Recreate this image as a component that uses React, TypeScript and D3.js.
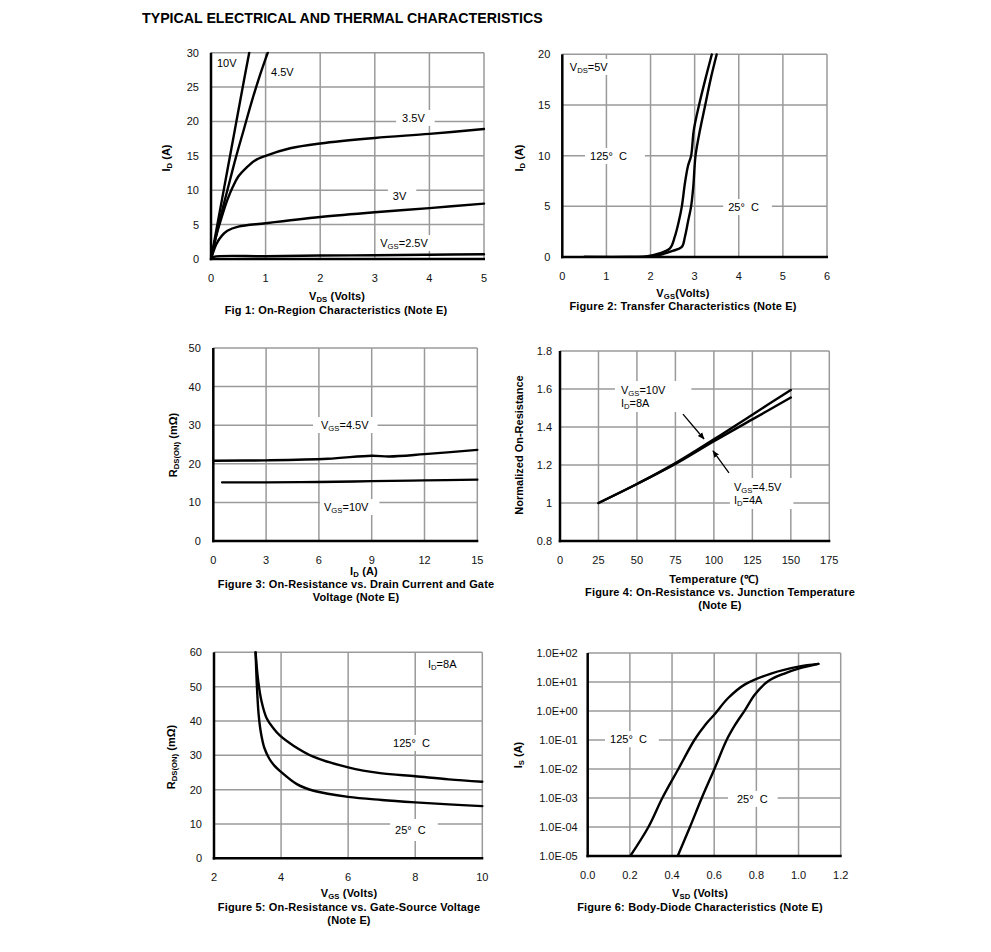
import React from 'react';
import * as d3 from 'd3';

const FONT = 'Arial, "Liberation Sans", Helvetica, sans-serif';
type Pt = [number, number];

// ---------- Figure 1: On-Region Characteristics ----------
const fig1XTicks = [0, 1, 2, 3, 4, 5];
const fig1YTicks = [0, 5, 10, 15, 20, 25, 30];
const fig1Vgs10: Pt[] = [[0, 0], [0.2, 8.6], [0.4, 17.2], [0.6, 25.8], [0.7, 30]];
const fig1Vgs45: Pt[] = [[0, 0], [0.1, 3.6], [0.2, 6.9], [0.3, 10], [0.45, 14.6], [0.6, 18.8], [0.75, 23], [0.9, 26.8], [1.04, 30]];
const fig1Vgs35: Pt[] = [[0, 0], [0.1, 3.5], [0.2, 6.2], [0.3, 8.6], [0.4, 10.5], [0.5, 12], [0.65, 13.3], [0.8, 14.3], [1, 15], [1.45, 16.1], [2, 16.8], [3, 17.6], [4, 18.2], [5, 18.9]];
const fig1Vgs3: Pt[] = [[0, 0], [0.1, 2.2], [0.2, 3.4], [0.3, 4.1], [0.5, 4.7], [1, 5.2], [2, 6.1], [3, 6.8], [4, 7.4], [5, 8.05]];
const fig1Vgs25: Pt[] = [[0, 0], [0.05, 0.3], [1, 0.4], [2, 0.5], [3, 0.55], [4, 0.62], [5, 0.7]];

// ---------- Figure 2: Transfer Characteristics ----------
const fig2XTicks = [0, 1, 2, 3, 4, 5, 6];
const fig2YTicks = [0, 5, 10, 15, 20];
const fig2T125: Pt[] = [[0.5, 0], [1.5, 0], [1.9, 0.05], [2.2, 0.35], [2.44, 0.85], [2.55, 2], [2.64, 3.5], [2.71, 5], [2.78, 7.3], [2.85, 9], [2.92, 10], [2.98, 12.5], [3.1, 15], [3.24, 17.5], [3.39, 20]];
const fig2T25: Pt[] = [[0.5, 0], [1.5, 0], [1.9, 0.02], [2.2, 0.2], [2.5, 0.6], [2.71, 1.0], [2.78, 2], [2.85, 3.5], [2.92, 5], [2.97, 7], [3.02, 10], [3.12, 12.5], [3.24, 15], [3.36, 17.5], [3.5, 20]];

// ---------- Figure 3: On-Resistance vs Drain Current ----------
const fig3XTicks = [0, 3, 6, 9, 12, 15];
const fig3YTicks = [0, 10, 20, 30, 40, 50];
const fig3Vgs45: Pt[] = [[0, 20.8], [3, 20.9], [6.5, 21.3], [9, 22.1], [10, 21.9], [12, 22.5], [15, 23.6]];
const fig3Vgs10: Pt[] = [[0.5, 15.2], [3, 15.2], [6, 15.3], [9, 15.5], [12, 15.7], [15, 15.9]];

// ---------- Figure 4: On-Resistance vs Junction Temperature ----------
const fig4XTicks = [0, 25, 50, 75, 100, 125, 150, 175];
const fig4YTicks = [0.8, 1.0, 1.2, 1.4, 1.6, 1.8];
const fig4Vgs10: Pt[] = [[25, 1], [50, 1.1], [75, 1.21], [100, 1.335], [125, 1.465], [150, 1.595]];
const fig4Vgs45: Pt[] = [[25, 1], [50, 1.1], [75, 1.205], [100, 1.325], [125, 1.44], [150, 1.555]];

// ---------- Figure 5: On-Resistance vs Gate-Source Voltage ----------
const fig5XTicks = [2, 4, 6, 8, 10];
const fig5YTicks = [0, 10, 20, 30, 40, 50, 60];
const fig5T125: Pt[] = [[3.24, 60], [3.32, 51.5], [3.42, 45.6], [3.57, 40.8], [3.77, 37.9], [3.97, 35.7], [4.37, 32.8], [4.96, 29.6], [6, 26.5], [6.95, 24.8], [8, 23.9], [9, 23], [10, 22.3]];
const fig5T25: Pt[] = [[3.24, 60], [3.28, 50], [3.33, 42], [3.4, 36.5], [3.5, 32.2], [3.65, 29], [3.8, 27], [3.97, 25.4], [4.47, 21.6], [5, 19.6], [6, 17.9], [7, 17], [8, 16.3], [9, 15.7], [10, 15.2]];

// ---------- Figure 6: Body-Diode Characteristics ----------
const fig6XTicks = [0, 0.2, 0.4, 0.6, 0.8, 1.0, 1.2];
const fig6YTicks = [1e-5, 1e-4, 1e-3, 1e-2, 1e-1, 1e0, 1e1, 1e2];
const fig6T125: Pt[] = [[0.202, 1e-5], [0.288, 1e-4], [0.354, 1e-3], [0.43, 1e-2], [0.506, 1e-1], [0.56, 0.35], [0.604, 0.8], [0.664, 2.7], [0.746, 8.3], [0.873, 20], [1.0, 34], [1.094, 42]];
const fig6T25: Pt[] = [[0.427, 1e-5], [0.485, 1e-4], [0.541, 1e-3], [0.601, 1e-2], [0.659, 0.1], [0.699, 0.33], [0.746, 1.08], [0.794, 3.8], [0.857, 10.8], [0.936, 20], [1.0, 29], [1.094, 42]];

// ---------- text helpers ----------
let ctx: CanvasRenderingContext2D | null = null;
function measure(t: string, size: number, bold = false) {
  if (!ctx && typeof document !== 'undefined') ctx = document.createElement('canvas').getContext('2d');
  if (!ctx) return t.length * size * 0.55;
  ctx.font = `${bold ? 'bold ' : ''}${size}px Arial, "Liberation Sans", sans-serif`;
  return ctx.measureText(t).width;
}
type Part = { t: string; sub: boolean };
function parseRich(s: string): Part[] {
  const parts: Part[] = [];
  const re = /_\{([^}]*)\}/g;
  let last = 0;
  let m: RegExpExecArray | null;
  while ((m = re.exec(s))) {
    if (m.index > last) parts.push({ t: s.slice(last, m.index), sub: false });
    parts.push({ t: m[1], sub: true });
    last = re.lastIndex;
  }
  if (last < s.length) parts.push({ t: s.slice(last), sub: false });
  return parts;
}
const SUB = 0.7;
function richWidth(s: string, size: number, bold = false) {
  return parseRich(s).reduce((a, p) => a + measure(p.t, p.sub ? size * SUB : size, bold), 0);
}
function richSpans(s: string, size: number) {
  let off = 0;
  return parseRich(s).map((p, i) => {
    const target = p.sub ? size * 0.22 : 0;
    const dy = target - off;
    off = target;
    return (
      <tspan key={i} fontSize={p.sub ? size * SUB : size} dy={dy !== 0 ? dy : undefined}>
        {p.t}
      </tspan>
    );
  });
}

interface Label { lines: string[]; x: number; y: number; padL: number; padR: number; padV?: number }
interface PanelProps {
  id: string;
  xDomain: [number, number]; xRange: [number, number];
  yDomain: [number, number]; yRange: [number, number];
  log?: boolean;
  xTicks: number[]; yTicks: number[];
  xFmt: (v: number) => string; yFmt: (v: number) => string;
  yGap: number;
  series: Pt[][];
  labels: Label[];
  arrows?: [Pt, Pt][];
}

const FS = 11;
const BFS = 11;
const LH = 13;

function Panel(p: PanelProps) {
  const x = d3.scaleLinear().domain(p.xDomain).range(p.xRange);
  const y: (v: number) => number = p.log
    ? d3.scaleLog().domain(p.yDomain).range(p.yRange)
    : d3.scaleLinear().domain(p.yDomain).range(p.yRange);
  const [x0, x1] = p.xRange;
  const [yb, yt] = p.yRange;
  const line = d3.line<Pt>().x(d => x(d[0])).y(d => y(d[1])).curve(d3.curveCatmullRom.alpha(0.5));
  const clip = `clip-${p.id}`;
  return (
    <g>
      <defs>
        <clipPath id={clip}>
          <rect x={x0} y={yt - 1} width={x1 - x0 + 2} height={yb - yt + 1} />
        </clipPath>
        <marker id={`arr-${p.id}`} viewBox="0 0 10 10" refX="9" refY="5" markerWidth="7" markerHeight="7" orient="auto" markerUnits="userSpaceOnUse">
          <path d="M0,1 L10,5 L0,9 z" fill="#000" />
        </marker>
      </defs>
      {p.xTicks.filter(t => t !== p.xDomain[0]).map((t, i) => (
        <line key={`gx${i}`} x1={x(t)} x2={x(t)} y1={yt} y2={yb} stroke="#9a9a9a" strokeWidth={1.5} />
      ))}
      {p.yTicks.filter(t => t !== p.yDomain[0]).map((t, i) => (
        <line key={`gy${i}`} x1={x0} x2={x1} y1={y(t)} y2={y(t)} stroke="#9a9a9a" strokeWidth={1.5} />
      ))}
      {p.labels.map((l, i) => {
        const w = Math.max(...l.lines.map(s => richWidth(s, FS)));
        const lx = x(l.x);
        const ly = y(l.y);
        const pv = l.padV ?? 3;
        const h = (l.lines.length - 1) * LH + 10;
        return (
          <g key={`lb${i}`}>
            <rect x={lx - l.padL} y={ly - 5 - pv} width={w + l.padL + l.padR} height={h + 2 * pv} fill="#fff" />
            {l.lines.map((s, j) => (
              <text key={j} x={lx} y={ly + 4 + j * LH} fontSize={FS} fontFamily={FONT} fill="#000" style={{ whiteSpace: 'pre' }}>
                {richSpans(s, FS)}
              </text>
            ))}
          </g>
        );
      })}
      <g clipPath={`url(#${clip})`}>
        {p.series.map((s, i) => (
          <path key={`s${i}`} d={line(s) ?? ''} fill="none" stroke="#000" strokeWidth={2.4} strokeLinejoin="round" strokeLinecap="round" />
        ))}
      </g>
      {(p.arrows ?? []).map((a, i) => (
        <line key={`a${i}`} x1={x(a[0][0])} y1={y(a[0][1])} x2={x(a[1][0])} y2={y(a[1][1])} stroke="#000" strokeWidth={1.3} markerEnd={`url(#arr-${p.id})`} />
      ))}
      <line x1={x0} x2={x0} y1={yt} y2={yb + 1.25} stroke="#000" strokeWidth={2.5} />
      <line x1={x0 - 1.25} x2={x1 + 1} y1={yb} y2={yb} stroke="#000" strokeWidth={2.5} />
      {p.xTicks.map((t, i) => (
        <text key={`tx${i}`} x={x(t)} y={yb + 23} textAnchor="middle" fontSize={FS} fontFamily={FONT} fill="#111">
          {p.xFmt(t)}
        </text>
      ))}
      {p.yTicks.map((t, i) => (
        <text key={`ty${i}`} x={x0 - p.yGap} y={y(t) + 4} textAnchor="end" fontSize={FS} fontFamily={FONT} fill="#111">
          {p.yFmt(t)}
        </text>
      ))}
    </g>
  );
}

function YTitle({ s, x, y }: { s: string; x: number; y: number }) {
  return (
    <text transform={`translate(${x},${y}) rotate(-90)`} textAnchor="middle" fontSize={BFS} fontWeight="bold" fontFamily={FONT} fill="#000">
      {richSpans(s, BFS)}
    </text>
  );
}
function CText({ s, x, y }: { s: string; x: number; y: number }) {
  return (
    <text x={x} y={y} textAnchor="middle" fontSize={BFS} fontWeight="bold" fontFamily={FONT} fill="#000" letterSpacing={0.15}>
      {richSpans(s, BFS)}
    </text>
  );
}

const num = (v: number) => String(+v.toFixed(1));
const sci = (v: number) => {
  const e = Math.round(Math.log10(v));
  return `1.0E${e < 0 ? '-' : '+'}${String(Math.abs(e)).padStart(2, '0')}`;
};

const DEG125 = '125°  C';
const DEG25 = '25°  C';

export default function App() {
  return (
    <svg width={991} height={952} style={{ position: 'absolute', left: 0, top: 0, background: '#fff' }} fontFamily={FONT}>
      <rect width={991} height={952} fill="#fff" />
      <text x={142} y={23} fontSize={14.2} fontWeight="bold" fontFamily={FONT} fill="#000">
        TYPICAL ELECTRICAL AND THERMAL CHARACTERISTICS
      </text>

      {/* Figure 1 */}
      <Panel id="f1" xDomain={[0, 5]} xRange={[211, 484]} yDomain={[0, 30]} yRange={[259, 52.7]}
        xTicks={fig1XTicks} yTicks={fig1YTicks} xFmt={num} yFmt={num} yGap={12}
        series={[fig1Vgs10, fig1Vgs45, fig1Vgs35, fig1Vgs3, fig1Vgs25]}
        labels={[
          { lines: ['10V'], x: 0.11, y: 28.5, padL: 3, padR: 3 },
          { lines: ['4.5V'], x: 1.1, y: 27.2, padL: 2, padR: 4 },
          { lines: ['3.5V'], x: 3.5, y: 20.5, padL: 6, padR: 10 },
          { lines: ['3V'], x: 3.33, y: 9.16, padL: 5, padR: 10 },
          { lines: ['V_{GS}=2.5V'], x: 3.1, y: 2.33, padL: 4, padR: 5 },
        ]} />
      <YTitle s="I_{D} (A)" x={170} y={158} />
      <CText s="V_{DS} (Volts)" x={337} y={300} />
      <CText s="Fig 1: On-Region Characteristics (Note E)" x={336} y={314} />

      {/* Figure 2 */}
      <Panel id="f2" xDomain={[0, 6]} xRange={[562.3, 827]} yDomain={[0, 20]} yRange={[257, 54.3]}
        xTicks={fig2XTicks} yTicks={fig2YTicks} xFmt={num} yFmt={num} yGap={12}
        series={[fig2T125, fig2T25]}
        labels={[
          { lines: ['V_{DS}=5V'], x: 0.17, y: 18.75, padL: 4, padR: 4 },
          { lines: [DEG125], x: 0.63, y: 9.97, padL: 5, padR: 18 },
          { lines: [DEG25], x: 3.76, y: 4.93, padL: 5, padR: 13 },
        ]} />
      <YTitle s="I_{D} (A)" x={523} y={158} />
      <CText s="V_{GS}(Volts)" x={683} y={297} />
      <CText s="Figure 2: Transfer Characteristics (Note E)" x={683} y={310} />

      {/* Figure 3 */}
      <Panel id="f3" xDomain={[0, 15]} xRange={[213.3, 477.3]} yDomain={[0, 50]} yRange={[541, 348]}
        xTicks={fig3XTicks} yTicks={fig3YTicks} xFmt={num} yFmt={num} yGap={12.5}
        series={[fig3Vgs45, fig3Vgs10]}
        labels={[
          { lines: ['V_{GS}=4.5V'], x: 6.12, y: 30.05, padL: 8, padR: 9 },
          { lines: ['V_{GS}=10V'], x: 6.29, y: 8.8, padL: 4, padR: 11 },
        ]} />
      <YTitle s="R_{DS(ON)} (mΩ)" x={177} y={445} />
      <CText s="I_{D} (A)" x={364} y={575} />
      <CText s="Figure 3: On-Resistance vs. Drain Current and Gate" x={356} y={588} />
      <CText s="Voltage (Note E)" x={356} y={601} />

      {/* Figure 4 */}
      <Panel id="f4" xDomain={[0, 175]} xRange={[560, 829.3]} yDomain={[0.8, 1.8]} yRange={[541, 351]}
        xTicks={fig4XTicks} yTicks={fig4YTicks} xFmt={num} yFmt={num} yGap={8}
        series={[fig4Vgs10, fig4Vgs45]}
        labels={[
          { lines: ['V_{GS}=10V', 'I_{D}=8A'], x: 39.6, y: 1.595, padL: 6, padR: 26, padV: 4 },
          { lines: ['V_{GS}=4.5V', 'I_{D}=4A'], x: 113, y: 1.084, padL: 4, padR: 12, padV: 4 },
        ]}
        arrows={[[[79.9, 1.468], [93.6, 1.337]], [[109.8, 1.158], [99.4, 1.274]]]} />
      <YTitle s="Normalized On-Resistance" x={523} y={445} />
      <CText s="Temperature (℃)" x={714} y={583} />
      <CText s="Figure 4: On-Resistance vs. Junction Temperature" x={720} y={596} />
      <CText s="(Note E)" x={720} y={609} />

      {/* Figure 5 */}
      <Panel id="f5" xDomain={[2, 10]} xRange={[214, 482.3]} yDomain={[0, 60]} yRange={[858.3, 652.3]}
        xTicks={fig5XTicks} yTicks={fig5YTicks} xFmt={num} yFmt={num} yGap={12}
        series={[fig5T125, fig5T25]}
        labels={[
          { lines: ['I_{D}=8A'], x: 8.38, y: 56.6, padL: 3, padR: 3 },
          { lines: [DEG125], x: 7.34, y: 33.6, padL: 5, padR: 5 },
          { lines: [DEG25], x: 7.4, y: 8.24, padL: 5, padR: 12, padV: 6 },
        ]} />
      <YTitle s="R_{DS(ON)} (mΩ)" x={175} y={757} />
      <CText s="V_{GS} (Volts)" x={349} y={897} />
      <CText s="Figure 5: On-Resistance vs. Gate-Source Voltage" x={349} y={911} />
      <CText s="(Note E)" x={349} y={924} />

      {/* Figure 6 */}
      <Panel id="f6" xDomain={[0, 1.2]} xRange={[587.7, 840.7]} yDomain={[1e-5, 1e2]} yRange={[856, 653]} log
        xTicks={fig6XTicks} yTicks={fig6YTicks} xFmt={v => v.toFixed(1)} yFmt={sci} yGap={10}
        series={[fig6T125, fig6T25]}
        labels={[
          { lines: [DEG125], x: 0.106, y: 0.107, padL: 5, padR: 12 },
          { lines: [DEG25], x: 0.708, y: 9.3e-4, padL: 9, padR: 10 },
        ]} />
      <YTitle s="I_{S} (A)" x={522} y={755} />
      <CText s="V_{SD} (Volts)" x={700} y={897} />
      <CText s="Figure 6: Body-Diode Characteristics (Note E)" x={700} y={911} />
    </svg>
  );
}
